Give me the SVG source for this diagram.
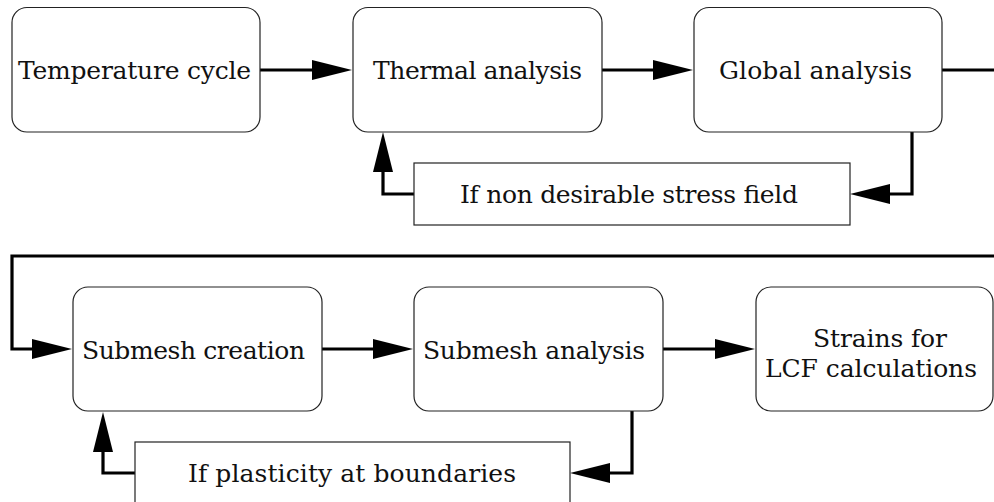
<svg xmlns="http://www.w3.org/2000/svg" width="994" height="502" viewBox="0 0 994 502">
<style>
.node{fill:#fff;stroke:#222;stroke-width:1.2}
.lbl{font-family:"DejaVu Serif","Liberation Serif",serif;font-size:25px;fill:#111}
.conn{fill:none;stroke:#000;stroke-width:3.2;stroke-linejoin:miter}
</style>
<defs>
<marker id="ah" markerUnits="userSpaceOnUse" markerWidth="42" markerHeight="22" refX="0" refY="10" orient="auto" viewBox="0 0 42 20" overflow="visible">
<path d="M0,0 L40,10 L0,20 Z" fill="#000"/>
</marker>
</defs>
<rect width="994" height="502" fill="#fff"/>
<g id="connectors">
<path class="conn" d="M260,70 H312" marker-end="url(#ah)"/>
<path class="conn" d="M602,70 H653" marker-end="url(#ah)"/>
<path class="conn" d="M942,70 H994"/>
<path class="conn" d="M912,132 V194 H890" marker-end="url(#ah)"/>
<path class="conn" d="M414,194 H383 V172" marker-end="url(#ah)"/>
<path class="conn" d="M994,256 H12 V349 H32" marker-end="url(#ah)"/>
<path class="conn" d="M322,349 H373" marker-end="url(#ah)"/>
<path class="conn" d="M663,349 H715" marker-end="url(#ah)"/>
<path class="conn" d="M632,411 V473 H610" marker-end="url(#ah)"/>
<path class="conn" d="M135,473 H103 V452" marker-end="url(#ah)"/>
</g>
<g id="n-temperature">
<rect class="node" x="12" y="7.5" width="248" height="124.5" rx="15"/>
<text class="lbl" x="18" y="79" textLength="233">Temperature cycle</text>
</g>
<g id="n-thermal">
<rect class="node" x="353" y="7.5" width="249" height="124.5" rx="15"/>
<text class="lbl" x="373" y="79" textLength="209">Thermal analysis</text>
</g>
<g id="n-global">
<rect class="node" x="694" y="7.5" width="248" height="124.5" rx="15"/>
<text class="lbl" x="719" y="79" textLength="193">Global analysis</text>
</g>
<g id="n-stress">
<rect class="node" x="414" y="163" width="436" height="62"/>
<text class="lbl" x="460" y="203" textLength="338">If non desirable stress field</text>
</g>
<g id="n-submesh-creation">
<rect class="node" x="73" y="287" width="249" height="124" rx="15"/>
<text class="lbl" x="82" y="359" textLength="223">Submesh creation</text>
</g>
<g id="n-submesh-analysis">
<rect class="node" x="414" y="287" width="249" height="124" rx="15"/>
<text class="lbl" x="423" y="359" textLength="222">Submesh analysis</text>
</g>
<g id="n-strains">
<rect class="node" x="756" y="287" width="237" height="124" rx="15"/>
<text class="lbl" x="813" y="347" textLength="134">Strains for</text>
<text class="lbl" x="765" y="377" textLength="212">LCF calculations</text>
</g>
<g id="n-plasticity">
<rect class="node" x="135" y="442" width="435" height="62"/>
<text class="lbl" x="188" y="482" textLength="328">If plasticity at boundaries</text>
</g>
</svg>
